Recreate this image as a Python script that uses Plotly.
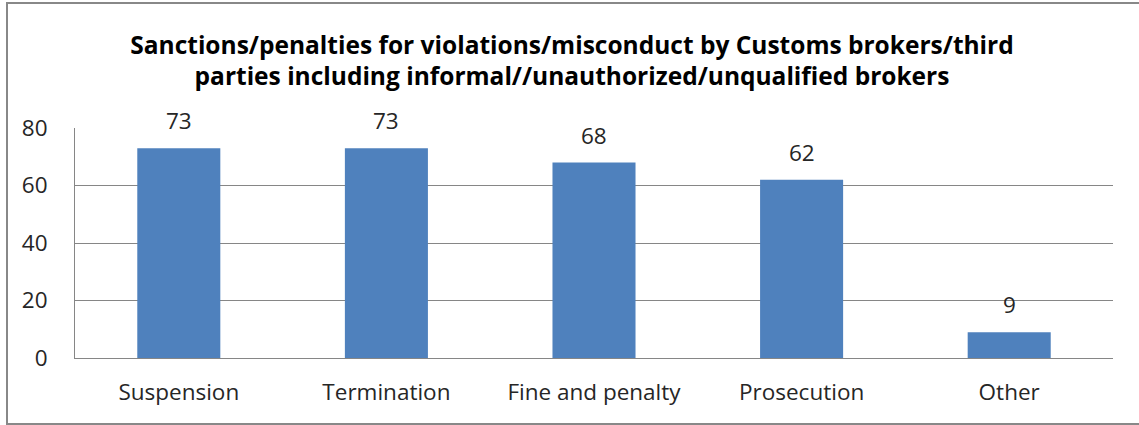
import plotly.graph_objects as go

categories = ["Suspension", "Termination", "Fine and penalty", "Prosecution", "Other"]
values = [73, 73, 68, 62, 9]
y_ticks = [0, 20, 40, 60, 80]

W, H = 1139, 425
L, R, T, B = 75, 26, 128, 67
pw, ph = W - L - R, H - T - B
FONT = "Open Sans, Calibri, sans-serif"
TXT = "#262626"

fig = go.Figure(go.Bar(
    x=categories, y=values,
    marker=dict(color="#4F81BD", line=dict(width=0)),
    hoverinfo="x+y",
))

for c, v in zip(categories, values):
    fig.add_annotation(x=c, y=v, text=str(v), showarrow=False,
                       yanchor="bottom", yshift=10,
                       font=dict(family=FONT, size=22.5, color=TXT))

def px_x(p):
    return (p - L) / pw

def px_y(p):
    return (H - B - p) / ph

fig.add_shape(type="rect", xref="paper", yref="paper",
              x0=px_x(7), x1=px_x(1150), y0=px_y(424), y1=px_y(3),
              line=dict(color="#888888", width=2), layer="below")

fig.update_layout(
    width=W, height=H,
    margin=dict(l=L, r=R, t=T, b=B),
    paper_bgcolor="white", plot_bgcolor="white",
    bargap=0.6,
    showlegend=False,
    title=dict(
        text="Sanctions/penalties for violations/misconduct by Customs brokers/third<br>parties including informal//unauthorized/unqualified brokers",
        x=572 / W, xanchor="center", xref="container", y=0.874, yanchor="middle",
        font=dict(family=FONT, size=24.5, color="#000", weight="bold"),
    ),
    font=dict(family=FONT, size=22.5, color=TXT),
)
fig.update_xaxes(showgrid=False, showline=True, linecolor="#868686", linewidth=1,
                 ticks="", ticklabelstandoff=14, tickfont=dict(size=22.5, color=TXT))
fig.update_yaxes(range=[0, 80], tickvals=y_ticks, showgrid=True, gridcolor="#868686",
                 gridwidth=1, showline=True, linecolor="#868686", linewidth=1,
                 ticks="", ticklabelstandoff=22, zeroline=False,
                 tickfont=dict(size=22.5, color=TXT))

fig.write_html("out.html", config={"displayModeBar": False},
               post_script="document.body.style.margin='0';")
